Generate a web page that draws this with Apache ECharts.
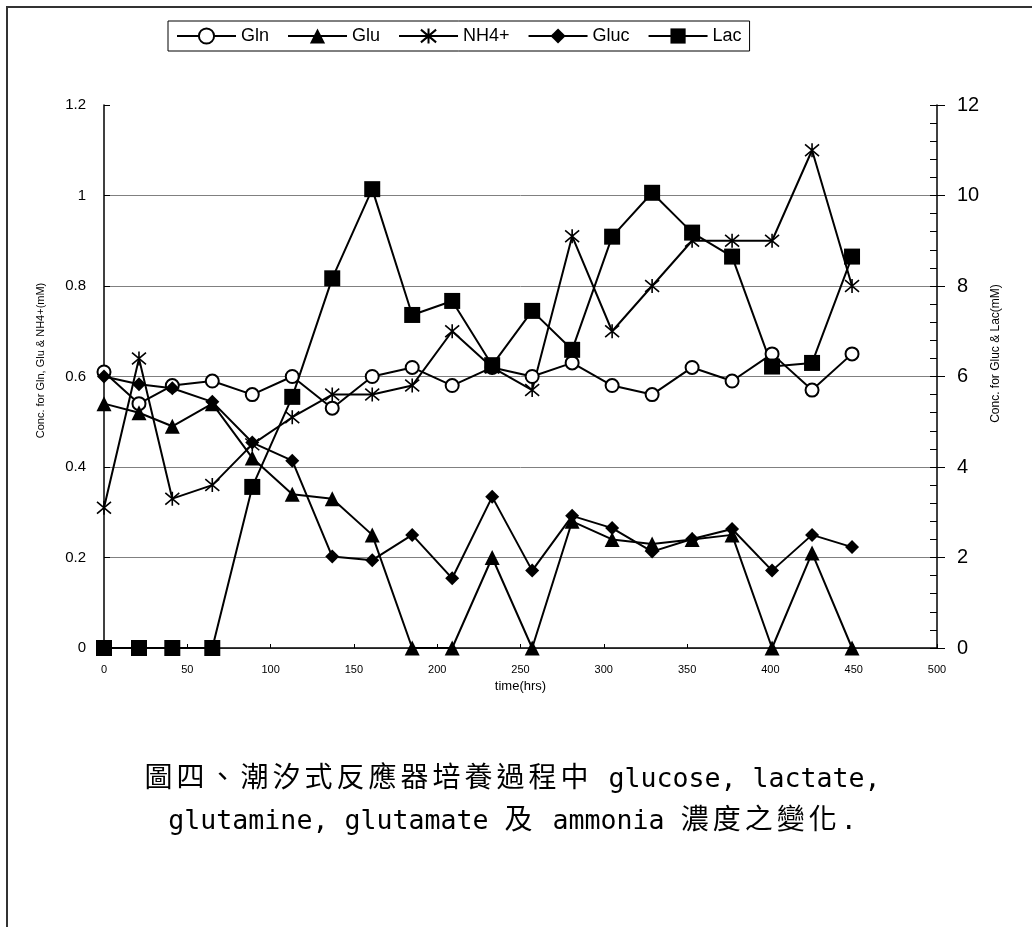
<!DOCTYPE html>
<html>
<head>
<meta charset="utf-8">
<script src="https://cdn.jsdelivr.net/npm/echarts@6/dist/echarts.min.js"></script>
<style>
  html, body { margin: 0; padding: 0; background: #fff; }
  body { width: 1032px; height: 927px; position: relative; overflow: hidden; }
  #frame { position: absolute; left: 6px; top: 6px; width: 1100px; height: 1000px;
           border-left: 2px solid #333; border-top: 2px solid #333; }
  #chart { position: absolute; left: 0; top: 0; width: 1032px; height: 927px; }
  .cap { position: absolute; left: 0; width: 1025px; text-align: center; white-space: pre;
         color: #000; line-height: 34px; }
  .cjk { font-family: "Noto Sans CJK TC", sans-serif; font-size: 28px; letter-spacing: 4px; }
  .lat { font-family: "DejaVu Sans Mono", monospace; font-size: 26.6px; }
</style>
</head>
<body>
<div id="frame"></div>
<div id="chart"></div>
<div class="cap" style="top:758px"><span class="cjk">圖四、潮汐式反應器培養過程中</span><span class="lat"> glucose, lactate,</span></div>
<div class="cap" style="top:800px"><span class="lat">glutamine, glutamate </span><span class="cjk">及</span><span class="lat"> ammonia </span><span class="cjk">濃度之變化</span><span class="lat">.</span></div>
<script>
// sampling times (hrs)
const hours = [0, 21, 41, 65, 89, 113, 137, 161, 185, 209, 233, 257, 281, 305, 329, 353, 377, 401, 425, 449];
// left axis (mM)
const gln = [0.61, 0.54, 0.58, 0.59, 0.56, 0.60, 0.53, 0.60, 0.62, 0.58, 0.62, 0.60, 0.63, 0.58, 0.56, 0.62, 0.59, 0.65, 0.57, 0.65];
const glu = [0.54, 0.52, 0.49, 0.54, 0.42, 0.34, 0.33, 0.25, 0, 0, 0.20, 0, 0.28, 0.24, 0.23, 0.24, 0.25, 0, 0.21, 0];
const nh4 = [0.31, 0.64, 0.33, 0.36, 0.45, 0.51, 0.56, 0.56, 0.58, 0.70, 0.62, 0.57, 0.91, 0.70, 0.80, 0.90, 0.90, 0.90, 1.10, 0.80];
// right axis (mM)
const gluc = [6.0, 5.83, 5.74, 5.44, 4.54, 4.14, 2.02, 1.94, 2.50, 1.54, 3.34, 1.71, 2.92, 2.65, 2.13, 2.41, 2.63, 1.71, 2.50, 2.23];
const lac = [0, 0, 0, 0, 3.56, 5.55, 8.17, 10.14, 7.36, 7.67, 6.25, 7.45, 6.59, 9.09, 10.06, 9.18, 8.65, 6.22, 6.30, 8.65];

const seriesNames = ['Gln', 'Glu', 'NH4+', 'Gluc', 'Lac'];
const leftTitle = 'Conc. for Gln, Glu & NH4+(mM)';
const rightTitle = 'Conc. for Gluc & Lac(mM)';
const xTitle = 'time(hrs)';

const pair = arr => hours.map((h, i) => [h, arr[i]]);
const FONT = 'Liberation Sans, Arial, sans-serif';
// six-armed star: vertical bar plus an X
const asterisk = 'path://M5,0L5,10M0.5,0.8L9.5,9.2M0.5,9.2L9.5,0.8';

function lineSeries(name, data, axis, symbol, size, stroke) {
  return {
    name, type: 'line', yAxisIndex: axis, data: pair(data),
    symbol, symbolSize: size, showSymbol: true,
    lineStyle: { color: '#000', width: 2 },
    itemStyle: { color: '#000', borderColor: '#000', borderWidth: stroke },
    emphasis: { disabled: true },
    animation: false
  };
}

const chart = echarts.init(document.getElementById('chart'), null, { renderer: 'canvas' });
chart.setOption({
  backgroundColor: 'transparent',
  animation: false,
  grid: { left: 104, right: 95, top: 105, bottom: 279, containLabel: false, outerBoundsMode: 'none' },
  legend: {
    data: seriesNames,
    left: 168, top: 21,
    padding: [6, 8],
    itemWidth: 59, itemHeight: 19, itemGap: 18,
    borderColor: '#000', borderWidth: 1, borderRadius: 0,
    backgroundColor: '#fff',
    textStyle: { fontSize: 18, color: '#000', fontFamily: FONT },
    selectedMode: false
  },
  xAxis: {
    type: 'value', min: 0, max: 500, interval: 50,
    name: xTitle, nameLocation: 'middle', nameGap: 21,
    nameTextStyle: { fontSize: 13, color: '#000', fontFamily: FONT },
    axisLine: { show: true, onZero: false, lineStyle: { color: '#000', width: 1.5 } },
    axisTick: { show: true, inside: true, length: 4, lineStyle: { color: '#000' } },
    axisLabel: { fontSize: 11, color: '#000', fontFamily: FONT, margin: 16 },
    splitLine: { show: false }
  },
  yAxis: [
    {
      type: 'value', min: 0, max: 1.2, interval: 0.2, position: 'left',
      name: leftTitle, nameLocation: 'middle', nameGap: 58, nameRotate: 90,
      nameTextStyle: { fontSize: 11, color: '#000', fontFamily: FONT, padding: [0, 0, 0, 32] },
      axisLine: { show: true, lineStyle: { color: '#000', width: 1.5 } },
      axisTick: { show: true, inside: true, length: 6, lineStyle: { color: '#000' } },
      axisLabel: { fontSize: 15, color: '#000', fontFamily: FONT, margin: 18 },
      splitLine: { show: true, lineStyle: { color: ['#808080', '#808080', '#808080', '#808080', '#808080', '#808080', 'rgba(0,0,0,0)'], width: 1 } }
    },
    {
      type: 'value', min: 0, max: 12, interval: 2, position: 'right',
      name: rightTitle, nameLocation: 'middle', nameGap: 53, nameRotate: 90,
      nameTextStyle: { fontSize: 12, color: '#000', fontFamily: FONT, padding: [0, 0, 0, 46] },
      axisLine: { show: true, lineStyle: { color: '#000', width: 1.5 } },
      axisTick: { show: true, inside: true, length: 7, lineStyle: { color: '#000' } },
      minorTick: { show: true, splitNumber: 5, length: 7, lineStyle: { color: '#000' } },
      axisLabel: { fontSize: 20, color: '#000', fontFamily: FONT, margin: 20 },
      splitLine: { show: false }
    },
    {
      // outer half of the right-hand major ticks
      type: 'value', min: 0, max: 12, interval: 2, position: 'right',
      axisLine: { show: false },
      axisTick: { show: true, inside: false, length: 8, lineStyle: { color: '#000' } },
      axisLabel: { show: false },
      splitLine: { show: false }
    }
  ],
  series: [
    lineSeries('Gln', gln, 0, 'emptyCircle', 13, 1.5),
    lineSeries('Glu', glu, 0, 'triangle', 15, 0),
    lineSeries('NH4+', nh4, 0, asterisk, 14, 1.6),
    lineSeries('Gluc', gluc, 1, 'diamond', 14, 0),
    lineSeries('Lac', lac, 1, 'rect', 16, 0)
  ]
});
</script>
</body>
</html>
